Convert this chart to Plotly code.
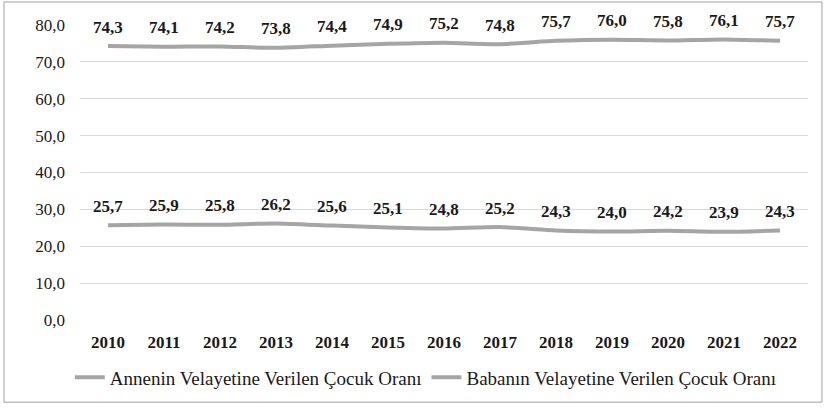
import plotly.graph_objects as go

years = ["2010", "2011", "2012", "2013", "2014", "2015", "2016", "2017", "2018", "2019", "2020", "2021", "2022"]
anne = [74.3, 74.1, 74.2, 73.8, 74.4, 74.9, 75.2, 74.8, 75.7, 76.0, 75.8, 76.1, 75.7]
baba = [25.7, 25.9, 25.8, 26.2, 25.6, 25.1, 24.8, 25.2, 24.3, 24.0, 24.2, 23.9, 24.3]
names = ["Annenin Velayetine Verilen Çocuk Oranı", "Babanın Velayetine Verilen Çocuk Oranı"]
y_ticks = [0, 10, 20, 30, 40, 50, 60, 70, 80]

FONT = "Liberation Serif"
GREY = "#A5A5A5"
TXT = "#1a1a1a"

fig = go.Figure()
for name, vals in zip(names, [anne, baba]):
    fig.add_trace(go.Scatter(x=years, y=vals, name=name, mode="lines",
                             line=dict(color=GREY, width=4, shape="spline", smoothing=0.6)))

annotations = []
for vals in [anne, baba]:
    for i, v in enumerate(vals):
        annotations.append(dict(x=i, y=v, xref="x", yref="y",
                                text=f"<b>{v:.1f}</b>".replace(".", ","), showarrow=False,
                                yshift=19, font=dict(family=FONT, size=17, color=TXT)))

fig.update_layout(
    width=826, height=409,
    margin=dict(l=80, r=18, t=25, b=86),
    paper_bgcolor="white", plot_bgcolor="white",
    font=dict(family=FONT, color=TXT),
    separators=",.",
    showlegend=True,
    legend=dict(orientation="h", x=0.475, xanchor="center", y=-0.195, yanchor="middle",
                font=dict(family=FONT, size=19, color=TXT), itemwidth=30, tracegroupgap=0),
    annotations=annotations,
    shapes=[dict(type="rect", xref="paper", yref="paper", x0=-0.1044, x1=1.0192, y0=-0.2785, y1=1.078,
                 line=dict(color="#A0A0A0", width=1), fillcolor="rgba(0,0,0,0)", layer="below")],
)
fig.update_xaxes(type="category", range=[-0.5, 12.5], showgrid=False, showline=False, zeroline=False,
                 ticks="", tickvals=years, ticktext=[f"<b>{y}</b>" for y in years],
                 ticklabelstandoff=10,
                 tickfont=dict(family=FONT, size=17, color=TXT))
fig.update_yaxes(range=[0, 80], tickvals=y_ticks, tickformat=".1f", showgrid=True, gridcolor="#D9D9D9",
                 gridwidth=1, zeroline=False, showline=False, ticks="", ticklabelstandoff=14,
                 tickfont=dict(family=FONT, size=17, color=TXT))

fig.write_html("out.html", config={"displayModeBar": False},
               post_script="document.body.style.margin='0';document.body.style.overflow='hidden';")
